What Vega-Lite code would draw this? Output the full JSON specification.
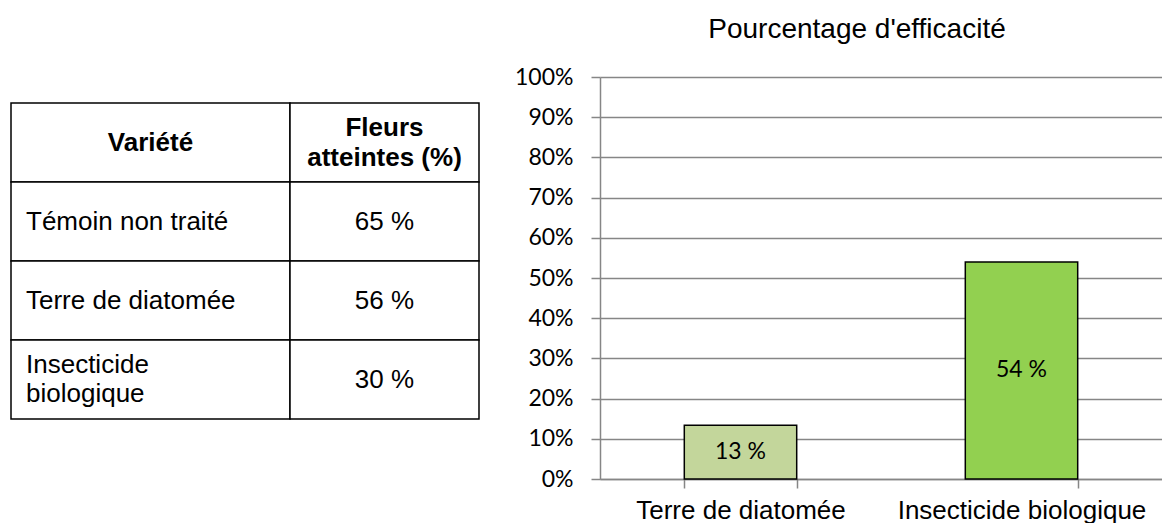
{
  "$schema": "https://vega.github.io/schema/vega-lite/v6.json",
  "padding": {"left": 10, "top": 16, "right": 0, "bottom": 0},
  "background": "white",
  "config": {
    "view": {"stroke": null},
    "font": "Liberation Sans",
    "text": {"color": "black"}
  },
  "datasets": {
    "tableau": [
      {"ligne": "entete", "variete": "Variété", "fleurs": "Fleurs\natteintes (%)"},
      {"ligne": "l1", "variete": "Témoin non traité", "fleurs": "65 %"},
      {"ligne": "l2", "variete": "Terre de diatomée", "fleurs": "56 %"},
      {"ligne": "l3", "variete": "Insecticide\nbiologique", "fleurs": "30 %"}
    ],
    "efficacite": [
      {"traitement": "Terre de diatomée", "efficacite": 13.4},
      {"traitement": "Insecticide biologique", "efficacite": 54}
    ]
  },
  "bounds": "flush",
  "spacing": 0,
  "hconcat": [
    {
      "width": 279,
      "height": 342,
      "data": {"name": "tableau"},
      "encoding": {
        "y": {"field": "ligne", "type": "nominal", "sort": null, "axis": null, "scale": {"paddingInner": 0, "paddingOuter": 0.164557, "align": 1}}
      },
      "layer": [
        {"mark": {"type": "rect", "fill": "white", "stroke": "black", "strokeWidth": 1.5}},
        {
          "transform": [{"filter": "datum.ligne === 'entete'"}],
          "mark": {"type": "text", "fontWeight": "bold", "fontSize": 26, "align": "center", "baseline": "middle"},
          "encoding": {"text": {"field": "variete"}}
        },
        {
          "transform": [{"filter": "datum.ligne !== 'entete' && indexof(datum.variete, '\\n') < 0"}],
          "mark": {"type": "text", "fontSize": 26, "align": "left", "baseline": "middle", "dx": -124.5},
          "encoding": {"text": {"field": "variete"}}
        },
        {
          "transform": [{"filter": "datum.ligne !== 'entete' && indexof(datum.variete, '\\n') >= 0"}],
          "mark": {"type": "text", "fontSize": 26, "lineBreak": "\n", "lineHeight": 29, "align": "left", "baseline": "middle", "dx": -124.5, "dy": -14.5},
          "encoding": {"text": {"field": "variete"}}
        }
      ]
    },
    {
      "width": 310,
      "height": 342,
      "data": {"name": "tableau"},
      "encoding": {
        "x": {"datum": "colonne", "type": "nominal", "axis": null, "scale": {"paddingInner": 0, "paddingOuter": 0.32011, "align": 0}},
        "y": {"field": "ligne", "type": "nominal", "sort": null, "axis": null, "scale": {"paddingInner": 0, "paddingOuter": 0.164557, "align": 1}}
      },
      "layer": [
        {"mark": {"type": "rect", "fill": "white", "stroke": "black", "strokeWidth": 1.5}},
        {
          "transform": [{"filter": "datum.ligne === 'entete'"}],
          "mark": {"type": "text", "fontWeight": "bold", "fontSize": 26, "lineBreak": "\n", "lineHeight": 30, "align": "center", "baseline": "middle", "dy": -15},
          "encoding": {"text": {"field": "fleurs"}}
        },
        {
          "transform": [{"filter": "datum.ligne !== 'entete'"}],
          "mark": {"type": "text", "fontSize": 26, "align": "center", "baseline": "middle"},
          "encoding": {"text": {"field": "fleurs"}}
        }
      ]
    },
    {
      "width": 562,
      "height": 402,
      "data": {"name": "efficacite"},
      "title": {
        "text": "Pourcentage d'efficacité",
        "font": "Liberation Sans",
        "fontSize": 28,
        "fontWeight": "normal",
        "color": "black",
        "baseline": "alphabetic",
        "offset": 0,
        "anchor": "middle",
        "dx": -24
      },
      "encoding": {
        "x": {
          "field": "traitement",
          "type": "nominal",
          "sort": null,
          "scale": {"paddingInner": 0.6, "paddingOuter": 0.3},
          "axis": {
            "title": null,
            "labelAngle": 0,
            "labelFont": "Liberation Sans",
            "labelFontSize": 26,
            "labelColor": "black",
            "labelBaseline": "alphabetic",
            "labelPadding": 30,
            "labelLimit": 0,
            "labelOverlap": false,
            "tickBand": "extent",
            "tickSize": 9,
            "tickColor": "#868686",
            "tickWidth": 1.5,
            "domainColor": "#868686",
            "domainWidth": 1.5,
            "grid": false
          }
        }
      },
      "layer": [
        {
          "mark": {"type": "bar", "stroke": "black", "strokeWidth": 1.5},
          "encoding": {
            "y": {
              "field": "efficacite",
              "type": "quantitative",
              "scale": {"domain": [0, 100]},
              "axis": {
                "title": null,
                "values": [0, 10, 20, 30, 40, 50, 60, 70, 80, 90, 100],
                "labelExpr": "datum.value + '%'",
                "labelFont": "Lato",
                "labelFontSize": 23,
                "labelColor": "black",
                "labelPadding": 18,
                "tickSize": 9,
                "tickColor": "#868686",
                "tickWidth": 1.5,
                "domainColor": "#868686",
                "domainWidth": 1.5,
                "grid": true,
                "gridColor": "#868686",
                "gridWidth": 1.5
              }
            },
            "color": {
              "field": "traitement",
              "type": "nominal",
              "scale": {"domain": ["Terre de diatomée", "Insecticide biologique"], "range": ["#C3D69B", "#92D050"]},
              "legend": null
            }
          }
        },
        {
          "mark": {
            "type": "text",
            "font": "Lato",
            "fontSize": 23,
            "color": "black",
            "baseline": "middle",
            "text": {"expr": "format(datum.efficacite, '.0f') + ' %'"}
          },
          "encoding": {
            "y": {"field": "efficacite", "type": "quantitative", "scale": {"domain": [0, 200]}, "axis": null}
          }
        }
      ],
      "resolve": {"scale": {"y": "independent"}}
    }
  ]
}
